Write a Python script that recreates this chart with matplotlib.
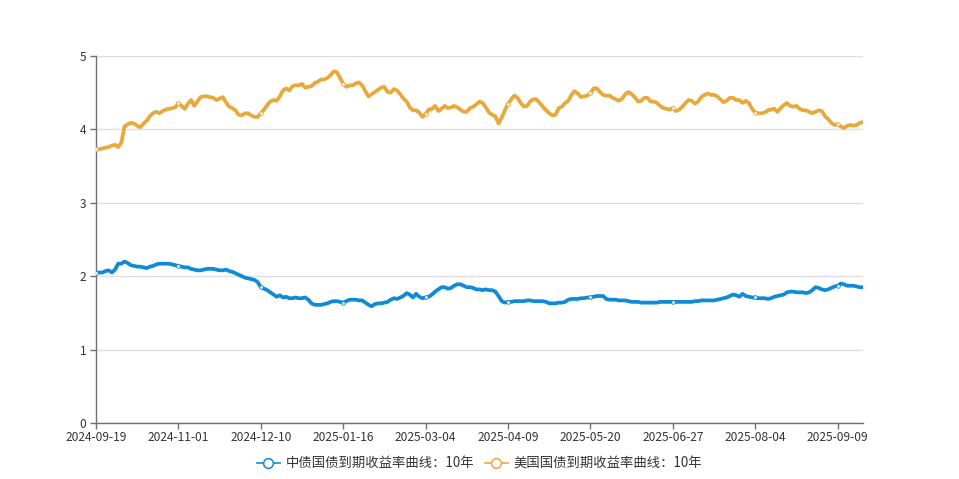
import matplotlib
matplotlib.use("Agg")
import matplotlib.pyplot as plt
from matplotlib.lines import Line2D

plt.rcParams['font.family'] = ['Noto Sans CJK SC', 'DejaVu Sans']

tick_labels = ["2024-09-19", "2024-11-01", "2024-12-10", "2025-01-16", "2025-03-04",
               "2025-04-09", "2025-05-20", "2025-06-27", "2025-08-04", "2025-09-09"]
tick_step = 26

series_names = ["中债国债到期收益率曲线：10年", "美国国债到期收益率曲线：10年"]

cn_10y = [
    2.05, 2.05, 2.05, 2.07, 2.08, 2.05, 2.09, 2.17, 2.17, 2.20, 2.18, 2.15, 2.14, 2.13, 2.13, 2.12,
    2.11, 2.13, 2.14, 2.16, 2.17, 2.17, 2.17, 2.17, 2.16, 2.15, 2.14,
    2.13, 2.12, 2.12, 2.10, 2.09, 2.08, 2.08, 2.09, 2.10, 2.10, 2.10, 2.09, 2.08, 2.08,
    2.09, 2.07, 2.06, 2.04, 2.02, 2.00, 1.98, 1.97, 1.96, 1.95, 1.92, 1.85,
    1.83, 1.81, 1.78, 1.75, 1.72, 1.74, 1.71, 1.72, 1.70, 1.70, 1.71, 1.70, 1.70, 1.71, 1.68, 1.63,
    1.61, 1.61, 1.61, 1.62, 1.63, 1.65, 1.66, 1.66, 1.65, 1.64,
    1.66, 1.68, 1.68, 1.68, 1.67, 1.67, 1.64, 1.61, 1.59, 1.62, 1.63, 1.63, 1.64, 1.65, 1.68, 1.70,
    1.69, 1.71, 1.73, 1.77, 1.75, 1.71, 1.76, 1.72, 1.70, 1.71,
    1.72, 1.75, 1.79, 1.82, 1.85, 1.85, 1.83, 1.84, 1.87, 1.89, 1.89, 1.87, 1.85, 1.85, 1.84, 1.82,
    1.82, 1.81, 1.82, 1.81, 1.81, 1.79, 1.73, 1.66, 1.64, 1.65,
    1.65, 1.66, 1.66, 1.66, 1.66, 1.67, 1.67, 1.66, 1.66, 1.66, 1.66, 1.65, 1.63, 1.63, 1.63, 1.64,
    1.64, 1.65, 1.68, 1.69, 1.69, 1.69, 1.70, 1.70, 1.71, 1.71,
    1.72, 1.73, 1.73, 1.73, 1.69, 1.68, 1.68, 1.68, 1.67, 1.67, 1.67, 1.66, 1.65, 1.65, 1.65, 1.64,
    1.64, 1.64, 1.64, 1.64, 1.64, 1.65, 1.65, 1.65, 1.65, 1.65,
    1.65, 1.65, 1.65, 1.65, 1.65, 1.65, 1.66, 1.66, 1.67, 1.67, 1.67, 1.67, 1.67, 1.68, 1.69, 1.70,
    1.71, 1.73, 1.75, 1.74, 1.72, 1.76, 1.73, 1.72, 1.71, 1.71,
    1.70, 1.70, 1.70, 1.69, 1.70, 1.72, 1.73, 1.74, 1.75, 1.78, 1.79, 1.79, 1.78, 1.78, 1.78, 1.77,
    1.78, 1.81, 1.85, 1.84, 1.82, 1.81, 1.82, 1.84, 1.86, 1.87,
    1.90, 1.89, 1.87, 1.87, 1.87, 1.86, 1.85, 1.85,
]

us_10y = [
    3.73, 3.73, 3.74, 3.75, 3.76, 3.78, 3.79, 3.76, 3.82, 4.04, 4.07, 4.09, 4.08, 4.05, 4.03, 4.08,
    4.12, 4.18, 4.22, 4.24, 4.22, 4.25, 4.27, 4.28, 4.29, 4.30, 4.36,
    4.32, 4.28, 4.35, 4.40, 4.32, 4.38, 4.44, 4.45, 4.45, 4.44, 4.43, 4.40, 4.42, 4.44,
    4.37, 4.31, 4.29, 4.26, 4.20, 4.19, 4.22, 4.22, 4.19, 4.17, 4.17, 4.22,
    4.27, 4.33, 4.38, 4.40, 4.39, 4.45, 4.53, 4.56, 4.53, 4.59, 4.60, 4.60, 4.62, 4.57, 4.58, 4.59,
    4.63, 4.65, 4.68, 4.68, 4.70, 4.74, 4.79, 4.78, 4.70, 4.62,
    4.58, 4.60, 4.60, 4.63, 4.64, 4.60, 4.52, 4.45, 4.48, 4.51, 4.54, 4.57, 4.58, 4.51, 4.50, 4.55,
    4.53, 4.48, 4.42, 4.38, 4.30, 4.26, 4.26, 4.23, 4.17, 4.21,
    4.27, 4.28, 4.32, 4.25, 4.28, 4.32, 4.29, 4.30, 4.32, 4.30, 4.27, 4.24, 4.24, 4.29, 4.31, 4.34,
    4.38, 4.36, 4.30, 4.23, 4.20, 4.18, 4.08, 4.16, 4.26, 4.35,
    4.41, 4.46, 4.43, 4.36, 4.31, 4.32, 4.38, 4.41, 4.41, 4.36, 4.31, 4.26, 4.22, 4.19, 4.20, 4.29,
    4.31, 4.36, 4.39, 4.47, 4.52, 4.49, 4.44, 4.45, 4.46, 4.49,
    4.56, 4.56, 4.51, 4.47, 4.46, 4.46, 4.43, 4.41, 4.39, 4.42, 4.48, 4.51, 4.48, 4.44, 4.38, 4.39,
    4.43, 4.43, 4.38, 4.38, 4.36, 4.32, 4.29, 4.28, 4.27, 4.29,
    4.25, 4.27, 4.31, 4.36, 4.40, 4.39, 4.35, 4.38, 4.44, 4.47, 4.49, 4.47, 4.47, 4.45, 4.41, 4.37,
    4.39, 4.43, 4.43, 4.40, 4.40, 4.36, 4.39, 4.36, 4.28, 4.23,
    4.22, 4.22, 4.23, 4.26, 4.27, 4.28, 4.24, 4.29, 4.33, 4.36, 4.32, 4.31, 4.32, 4.28, 4.26, 4.26,
    4.24, 4.22, 4.24, 4.26, 4.25, 4.18, 4.14, 4.09, 4.06, 4.07,
    4.04, 4.02, 4.05, 4.06, 4.05, 4.06, 4.09, 4.10,
]

colors = ['#0e8bd4', '#e9a83a']

fig = plt.figure(figsize=(9.59, 4.79), dpi=100)
ax = fig.add_axes([0.1001, 0.1169, 0.7998, 0.7662])

for vals, c in zip([cn_10y, us_10y], colors):
    x = list(range(len(vals)))
    ax.plot(x, vals, color=c, lw=2.7, solid_joinstyle='round', solid_capstyle='round',
            marker='o', markevery=tick_step, markersize=2.6, markerfacecolor='white',
            markeredgecolor=c, markeredgewidth=0.6, zorder=3)

n = len(cn_10y)
ax.set_xlim(0, n - 1)
ax.set_ylim(0, 5)
ax.set_yticks([0, 1, 2, 3, 4, 5])
ax.set_xticks([i * tick_step for i in range(len(tick_labels))])
ax.set_xticklabels(tick_labels)

ax.grid(axis='y', color='#e0e0e0', lw=1)
ax.set_axisbelow(True)
for s in ['top', 'right']:
    ax.spines[s].set_visible(False)
for s in ['left', 'bottom']:
    ax.spines[s].set_color('#6e7079')
    ax.spines[s].set_linewidth(1)
ax.tick_params(axis='both', colors='#6e7079', labelcolor='#333333', labelsize=8.6,
               length=4, width=1, pad=2)
ax.tick_params(axis='y', pad=3)

handles = [Line2D([0], [0], color=c, lw=1.2, marker='o', markersize=7,
                  markerfacecolor='white', markeredgecolor=c, markeredgewidth=1.1)
           for c in colors]
leg = fig.legend(handles, series_names, loc='center', bbox_to_anchor=(0.5, 0.033),
                 ncol=2, frameon=False, fontsize=9.6, handlelength=1.7, handletextpad=0.45,
                 columnspacing=0.8)
for t in leg.get_texts():
    t.set_color('#333333')

fig.savefig('out.png', dpi=100)
